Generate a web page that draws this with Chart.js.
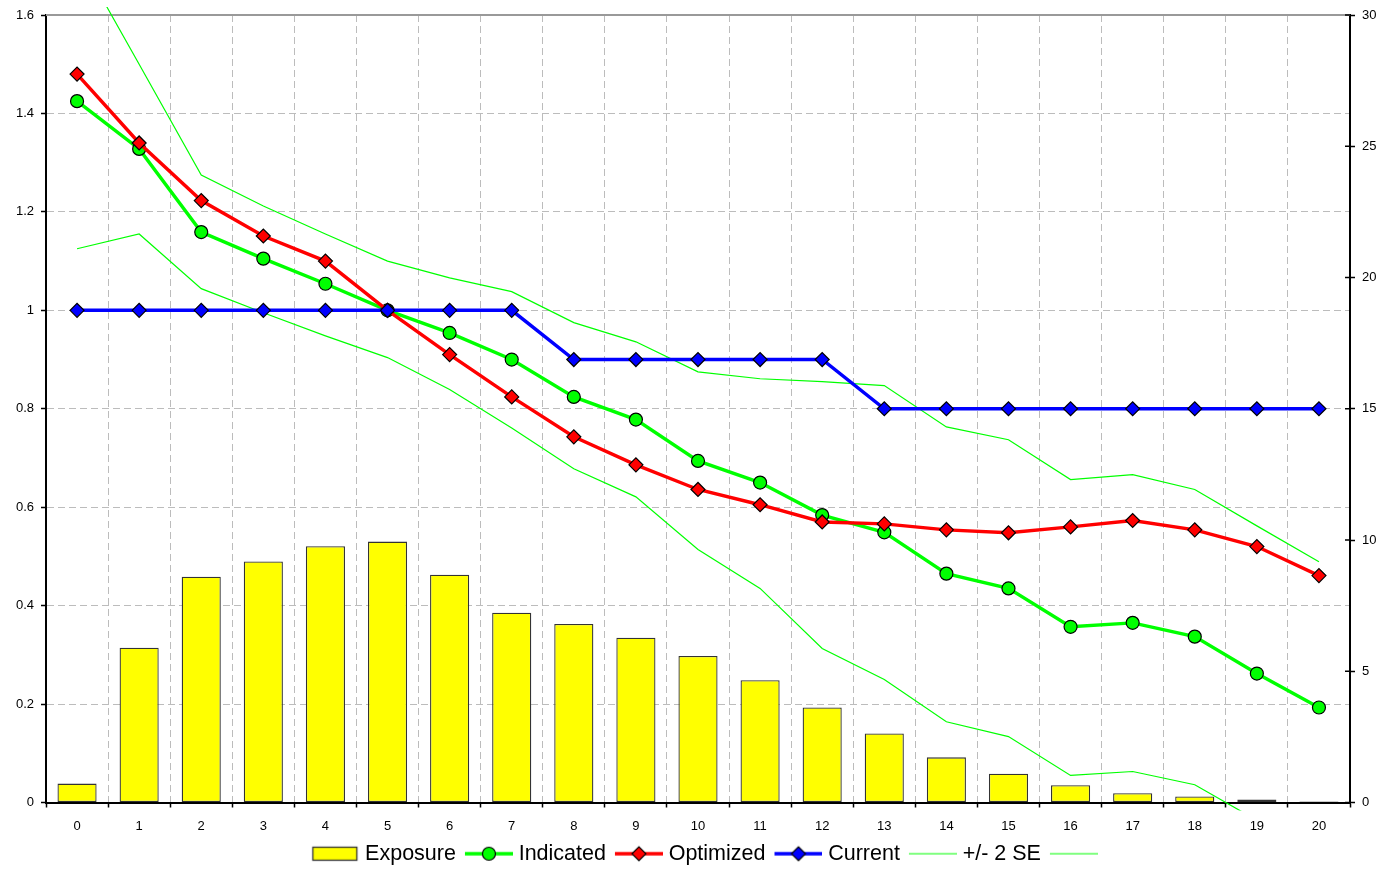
<!DOCTYPE html>
<html>
<head>
<meta charset="utf-8">
<script src="https://cdn.jsdelivr.net/npm/chart.js@4"></script>
<style>
html,body{margin:0;padding:0;background:#fff}
#wrap{width:1386px;height:870px}
</style>
</head>
<body>
<div id="wrap"><canvas id="myChart"></canvas></div>
<script>
// x categories
const labels = ['0','1','2','3','4','5','6','7','8','9','10','11','12','13','14','15','16','17','18','19','20']

// right axis (bars)
const exposure = [0.72,5.9,8.6,9.18,9.76,9.94,8.68,7.23,6.8,6.28,5.58,4.66,3.62,2.63,1.72,1.1,0.66,0.35,0.23,0.11,0.04]

// left axis (relativities)
const indicated = [1.425,1.328,1.159,1.105,1.054,1.0,0.954,0.9,0.824,0.778,0.694,0.65,0.584,0.549,0.465,0.435,0.357,0.365,0.337,0.262,0.193]
const optimized = [1.48,1.34,1.223,1.151,1.1,1.0,0.91,0.824,0.743,0.686,0.636,0.605,0.57,0.566,0.554,0.548,0.56,0.573,0.554,0.52,0.461]
const current = [1,1,1,1,1,1,1,1,0.9,0.9,0.9,0.9,0.9,0.8,0.8,0.8,0.8,0.8,0.8,0.8,0.8]
const seUpper = [1.724,1.5,1.275,1.212,1.155,1.1,1.066,1.038,0.975,0.936,0.875,0.861,0.855,0.847,0.763,0.737,0.656,0.666,0.636,0.562,0.489]
const seLower = [1.125,1.155,1.044,0.995,0.948,0.904,0.839,0.761,0.678,0.621,0.514,0.435,0.313,0.25,0.164,0.134,0.055,0.063,0.036,-0.036,-0.11]

const GREEN = '#00ff00', RED = '#ff0000', BLUE = '#0000ff', YELLOW = '#ffff00'

Chart.defaults.font.family = "'Liberation Sans', Arial, sans-serif"
Chart.defaults.color = '#000'

// little legend pictures: line + marker, or a filled box
// (canvas is wider than the picture so the picture sits to the right)
function swatch(kind, color){
    const c = document.createElement('canvas')
    c.width = 56; c.height = 18
    const g = c.getContext('2d')
    g.translate(8,0)
    if(kind === 'box'){
        g.fillStyle = color
        g.fillRect(1.5,2.5,44,13)
        g.strokeStyle = '#333'
        g.lineWidth = 1.3
        g.strokeRect(1.5,2.5,44,13)
        return c
    }
    g.strokeStyle = color
    g.lineWidth = kind === 'thin' ? 1 : 3.4
    g.beginPath(); g.moveTo(0,9); g.lineTo(48,9); g.stroke()
    g.fillStyle = color
    g.strokeStyle = '#000'
    g.lineWidth = 1.2
    if(kind === 'circle'){
        g.beginPath(); g.arc(24,9,6.5,0,Math.PI*2); g.fill(); g.stroke()
    }
    if(kind === 'diamond'){
        g.beginPath(); g.moveTo(17,9); g.lineTo(24,2); g.lineTo(31,9); g.lineTo(24,16); g.closePath(); g.fill(); g.stroke()
    }
    return c
}

const swatches = [
    swatch('box', YELLOW),
    swatch('circle', GREEN),
    swatch('diamond', RED),
    swatch('diamond', BLUE),
    swatch('thin', GREEN),
    swatch('thin', GREEN)
]

// solid top edge + right axis ticks that cross the line
const frame = {
    id:'frame',
    afterLayout(chart){
        // legend sits a bit right of centre and a bit lower
        const lg = chart.legend
        lg.left += 13; lg.right += 13
        lg.top += 4.5; lg.bottom += 4.5
    },
    beforeDatasetsDraw(chart){
        const {ctx, chartArea:{left,right,top}} = chart
        ctx.save()
        ctx.strokeStyle = '#999'
        ctx.lineWidth = 2
        ctx.beginPath(); ctx.moveTo(left,top); ctx.lineTo(right,top); ctx.stroke()
        const y2 = chart.scales.y2
        ctx.strokeStyle = '#000'
        ctx.lineWidth = 1.5
        y2.ticks.forEach((t)=>{
            const py = y2.getPixelForValue(t.value)
            ctx.beginPath(); ctx.moveTo(right-5,py); ctx.lineTo(right,py); ctx.stroke()
        })
        ctx.restore()
    }
}

const lineDs = (label, data, color, style, radius, order)=>({
    type:'line',
    label,
    data,
    yAxisID:'y',
    borderColor:color,
    borderWidth:3.4,
    backgroundColor:color,
    pointStyle:style,
    pointRadius:radius,
    pointBorderColor:'#000',
    pointBorderWidth:1.2,
    pointBackgroundColor:color,
    tension:0,
    order
})

const seDs = (label, data)=>({
    type:'line',
    label,
    data,
    yAxisID:'y',
    borderColor:GREEN,
    borderWidth:1.2,
    pointRadius:0,
    tension:0,
    clip:{left:2,top:8,right:2,bottom:8},
    order:5
})

const data = {
    labels,
    datasets:[
        {
            type:'bar',
            label:'Exposure',
            data:exposure,
            yAxisID:'y2',
            backgroundColor:YELLOW,
            borderColor:'#333',
            borderWidth:1.3,
            borderSkipped:false,
            barPercentage:0.63,
            categoryPercentage:1,
            order:9
        },
        lineDs('Indicated', indicated, GREEN, 'circle', 6.5, 3),
        lineDs('Optimized', optimized, RED, 'rectRot', 7, 2),
        lineDs('Current', current, BLUE, 'rectRot', 7, 1),
        seDs('+/- 2 SE', seUpper),
        seDs('', seLower)
    ]
}

const config = {
    type:'bar',
    data:data,
    plugins:[frame],
    options:{
        responsive:true,
        maintainAspectRatio:false,
        animation:false,
        layout:{padding:{top:15,left:0,right:0,bottom:0}},
        plugins:{
            tooltip:{enabled:false},
            legend:{
                position:'bottom',
                labels:{
                    usePointStyle:true,
                    pointStyleWidth:46,
                    padding:6,
                    color:'#000',
                    font:{size:21.5},
                    generateLabels:(chart)=>chart.data.datasets.map((ds,i)=>({
                        text:ds.label,
                        pointStyle:swatches[i],
                        datasetIndex:i,
                        hidden:false,
                        lineWidth:0,
                        fillStyle:'transparent',
                        strokeStyle:'transparent',
                        fontColor:'#000'
                    }))
                }
            }
        },
        scales:{
            x:{
                offset:true,
                grid:{offset:true, color:'#bcbcbc', tickColor:'#000', tickLength:5, tickWidth:1.5, tickBorderDash:[]},
                border:{color:'#000', width:2, dash:[7,4]},
                ticks:{color:'#000', font:{size:13}, padding:11, maxRotation:0, autoSkip:false},
                afterFit:(s)=>{ s.height = 30 }
            },
            y:{
                position:'left',
                min:0,
                max:1.6,
                ticks:{stepSize:0.2, color:'#000', font:{size:13}, padding:7,
                    callback:function(value){
                        return String(+value.toFixed(1))
                    }
                },
                grid:{color:'#bcbcbc', tickColor:'#000', tickLength:5, tickWidth:1.5, tickBorderDash:[]},
                border:{color:'#000', width:2, dash:[7,4]},
                afterFit:(s)=>{ s.width = 46 }
            },
            y2:{
                position:'right',
                min:0,
                max:30,
                ticks:{stepSize:5, color:'#000', font:{size:13}, padding:7},
                grid:{drawOnChartArea:false, tickColor:'#000', tickLength:5, tickWidth:1.5},
                border:{color:'#000', width:2},
                afterFit:(s)=>{ s.width = 36 }
            }
        }
    }
}

const myChart = new Chart(document.getElementById('myChart'), config)
</script>
</body>
</html>
